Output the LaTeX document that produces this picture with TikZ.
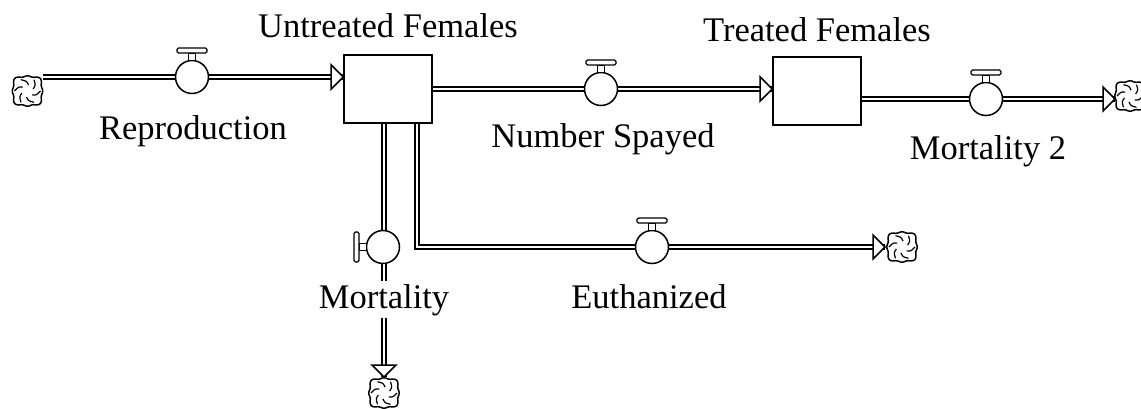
\documentclass[tikz,border=0pt]{standalone}
\usepackage{fontspec}
\setmainfont{Liberation Serif}
\begin{document}
\begin{tikzpicture}[x=1pt,y=-1pt,
  pipe/.style={draw=black, line width=1.3pt, double=white, double distance=2.6pt},
  stock/.style={draw=black, line width=1.6pt, fill=white, minimum width=88pt,
    minimum height=68pt, inner sep=0pt},
  lbl/.style={font=\fontsize{34.5}{40}\selectfont, inner xsep=0pt, inner ysep=3pt, anchor=base, fill=white},
  cloud/.pic={
    \draw[line width=1.5pt, fill=white]
      plot[domain=0:360, samples=97, smooth]
      ({\x}:{14.5/((abs(cos(\x))^4 + abs(sin(\x))^4)^0.25) + 0.7*cos(8*\x)}) -- cycle;
    \foreach \a in {0,60,...,300}
      \draw[line width=1.2pt] (\a:13) .. controls (\a+25:10) .. (\a+40:6);
  },
  valve/.pic={
    \draw[line width=1.5pt, fill=white] (0,0) circle[radius=16.5];
    \draw[line width=1.2pt, fill=white] (-3.5,-16.5) rectangle (3.5,-24);
    \draw[line width=1.3pt, fill=white, rounded corners=1.5pt] (-15,-24) rectangle (15,-29);
  },
  head/.pic={
    \draw[line width=1.5pt, fill=white, line join=miter] (0,0) -- (-12,-12) -- (-12,12) -- cycle;
  }
]
\useasboundingbox (0,0) rectangle (1141,409);

% stocks
\node[stock] (uf) at (388,89) {};
\node[stock] (tf) at (817,91) {};

% sources, sinks and pipe end points
\coordinate (srcR) at (27.5,91);
\coordinate (r0) at (43,77);
\coordinate (rIn) at (uf.west |- r0);

\coordinate (sIn) at (tf.west |- uf.east);

\coordinate (m2y) at (0,99);
\coordinate (m2Out) at (tf.east |- m2y);
\coordinate (m2In) at (1115,99);
\coordinate (sinkM2) at (1130,96);

\coordinate (mTop) at (384,123);
\coordinate (mIn) at (384,377);
\coordinate (sinkM) at (384,393);

\coordinate (eTop) at (417,123);
\coordinate (eCorner) at (417,247);
\coordinate (eIn) at (885,247);
\coordinate (sinkE) at (902,247);

% flow pipes
\draw[pipe] (r0) -- (rIn);
\draw[pipe] (uf.east) -- (sIn);
\draw[pipe] (m2Out) -- (m2In);
\draw[pipe] (mTop) -- (mIn);
\draw[pipe] (eTop) -- (eCorner) -- (eIn);

% redraw stock outlines over pipe ends
\node[stock, fill=none] at (uf) {};
\node[stock, fill=none] at (tf) {};

% valves
\pic at (192,77) {valve};
\pic at (601,89) {valve};
\pic at (986,99) {valve};
\pic[rotate=90] at (383,247) {valve};
\pic at (652,247) {valve};

% arrow heads
\pic at (rIn) {head};
\pic at (sIn) {head};
\pic at (m2In) {head};
\pic[rotate=-90] at (mIn) {head};
\pic at (eIn) {head};

% clouds
\pic at (srcR) {cloud};
\pic at (sinkM2) {cloud};
\pic at (sinkM) {cloud};
\pic at (sinkE) {cloud};

% labels
\node[lbl] (lUF) at (388,38) {Untreated Females};
\node[lbl] (lTF) at (817,42) {Treated Females};
\node[lbl] (lR) at (193,140) {Reproduction};
\node[lbl] (lNS) at (603,148) {Number Spayed};
\node[lbl] (lM2) at (988,160) {Mortality 2};
\node[lbl] (lM) at (384,308) {Mortality};
\node[lbl] (lE) at (649,308) {Euthanized};
\end{tikzpicture}
\end{document}
